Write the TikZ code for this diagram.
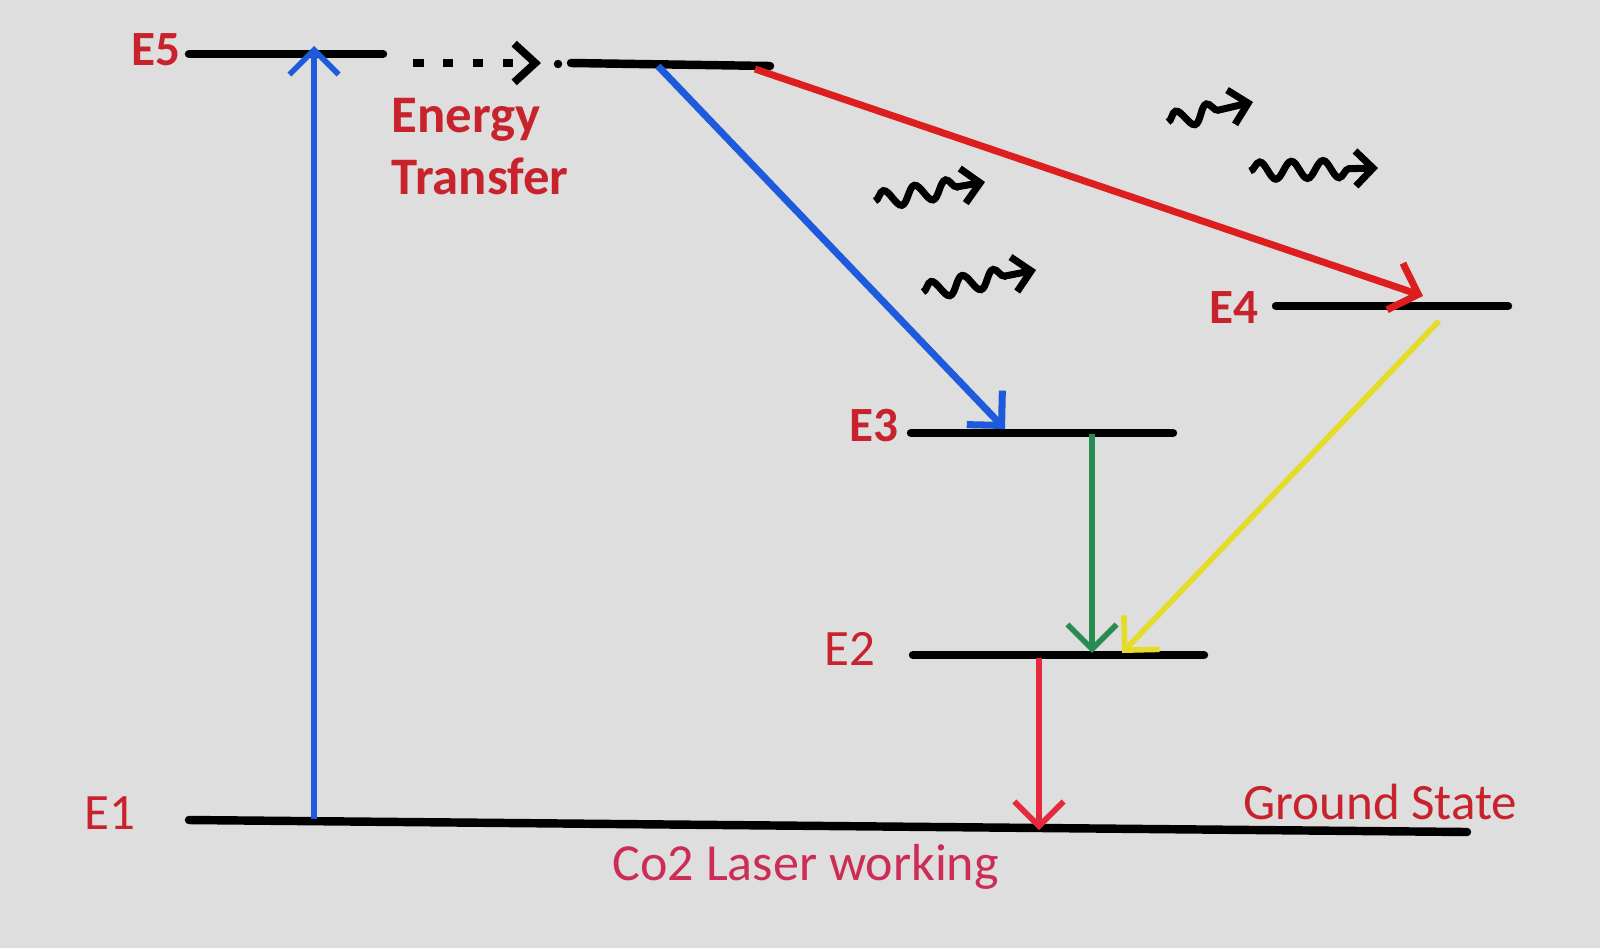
\documentclass[tikz,border=0pt]{standalone}
\usepackage{fontspec}
\setmainfont{Carlito}
\usetikzlibrary{arrows.meta,decorations.pathmorphing}
\definecolor{bgcol}{RGB}{222,222,222}
\definecolor{lblred}{RGB}{200,35,45}
\definecolor{pinkred}{RGB}{205,45,85}
\definecolor{pumpblue}{RGB}{30,90,220}
\definecolor{decayred}{RGB}{220,30,30}
\definecolor{lasergreen}{RGB}{40,140,80}
\definecolor{laseryellow}{RGB}{228,220,40}
\definecolor{dropred}{RGB}{230,40,60}
\tikzset{
  level/.style={line width=2.4pt, line cap=round},
  elbl/.style={anchor=base west, inner sep=0pt, text=lblred, font=\fontsize{14.5}{17.6}\selectfont},
  trans/.style={line width=1.6pt, -{Straight Barb[length=7pt,width=14pt]}},
  photon/.style={line width=2pt, decorate,
    decoration={snake, amplitude=2.5pt, segment length=9pt, post length=6pt},
    -{Straight Barb[length=5pt,width=10pt]}}
}
\begin{document}
\begin{tikzpicture}[x=0.01cm,y=-0.01cm]
  \fill[bgcol] (0,0) rectangle (1600,948);
  \useasboundingbox (0,0) rectangle (1600,948);
  % energy levels
  \coordinate (e5L) at (189,54);   \coordinate (e5R) at (383,54);
  \coordinate (e5bL) at (571,63);  \coordinate (e5bR) at (770,66);
  \coordinate (e4L) at (1276,306); \coordinate (e4R) at (1508,306);
  \coordinate (e3L) at (911,433);  \coordinate (e3R) at (1173,433);
  \coordinate (e2L) at (913,655);  \coordinate (e2R) at (1204,655);
  \coordinate (e1L) at (189,820);  \coordinate (e1R) at (1467,832);
  \foreach \a/\b in {e5L/e5R,e5bL/e5bR,e4L/e4R,e3L/e3R,e2L/e2R,e1L/e1R}
    \draw[level] (\a) -- (\b);
  % labels
  \node[elbl, font=\fontsize{14}{17.6}\selectfont\bfseries] (lE5) at (131,65) {E5};
  \node[elbl, font=\fontsize{14}{17.6}\selectfont\bfseries] (lE4) at (1209,323) {E4};
  \node[elbl, font=\fontsize{14}{17.6}\selectfont\bfseries] (lE3) at (849,441) {E3};
  \node[elbl] (lE2) at (824,665) {E2};
  \node[elbl] (lE1) at (84,829) {E1};
  \node[elbl, align=left, font=\fontsize{15}{17.6}\selectfont\bfseries] (transfer) at (391,194) {Energy\\Transfer};
  \node[elbl] (ground) at (1243,819) {Ground State};
  \node[elbl, text=pinkred, font=\fontsize{14.8}{17.6}\selectfont] (title) at (612,880) {Co2 Laser working};
  % transitions
  \coordinate (pumpS) at (314,819);  \coordinate (pumpE) at (314,46);
  \coordinate (etS) at (413,63);     \coordinate (etE) at (541,63);
  \coordinate (b3S) at (658,66);     \coordinate (b3E) at (1005,429);
  \coordinate (r4S) at (755,69);     \coordinate (r4E) at (1423,296);
  \coordinate (y2S) at (1439,321);   \coordinate (y2E) at (1122,653);
  \coordinate (g2S) at (1092,434);   \coordinate (g2E) at (1092,653);
  \coordinate (d1S) at (1039,658);   \coordinate (d1E) at (1039,830);
  \draw[trans, pumpblue] (pumpS) -- (pumpE);
  \draw[line width=2.2pt, dash pattern=on 3pt off 5.5pt, -{Straight Barb[length=6pt,width=11pt]}] (etS) -- (etE);
  \fill (558,64) circle (1.2pt);
  \draw[trans, pumpblue, line width=2pt] (b3S) -- (b3E);
  \draw[trans, decayred, line width=2pt] (r4S) -- (r4E);
  \draw[trans, laseryellow] (y2S) -- (y2E);
  \draw[trans, lasergreen] (g2S) -- (g2E);
  \draw[trans, dropred] (d1S) -- (d1E);
  % photons
  \coordinate (p1S) at (875,201);  \coordinate (p1E) at (985,182);
  \coordinate (p2S) at (923,292);  \coordinate (p2E) at (1036,270);
  \coordinate (p3S) at (1168,122); \coordinate (p3E) at (1253,102);
  \coordinate (p4S) at (1250,171); \coordinate (p4E) at (1378,168);
  \foreach \a/\b in {p1S/p1E,p2S/p2E,p3S/p3E,p4S/p4E}
    \draw[photon] (\a) -- (\b);
\end{tikzpicture}
\end{document}
